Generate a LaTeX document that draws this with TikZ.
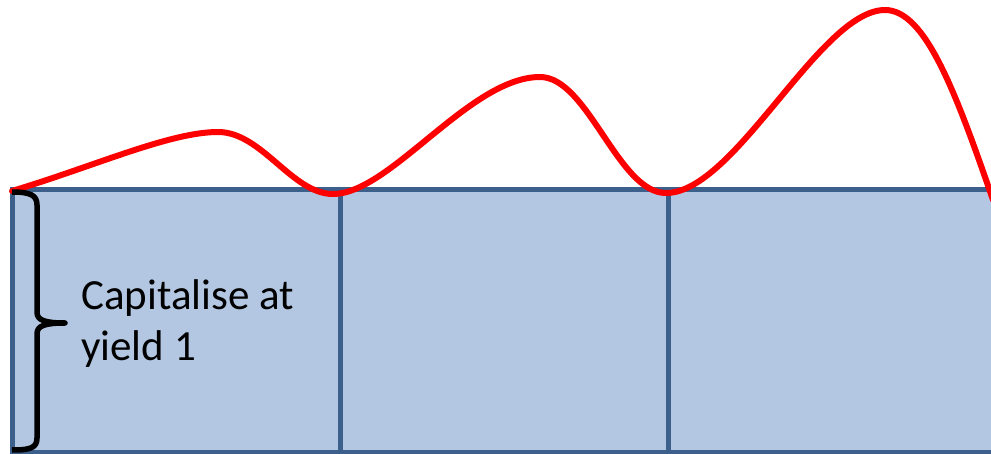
\documentclass[tikz,border=0pt]{standalone}
\usepackage{fontspec}
\setmainfont{Carlito}
\definecolor{boxfill}{HTML}{B3C7E2}
\definecolor{boxline}{HTML}{3C5F8C}
\begin{document}
\begin{tikzpicture}[x=1pt,y=-1pt,
  cell/.style={fill=boxfill,draw=boxline,line width=5pt},
  growth/.style={draw=red,line width=6pt,line cap=round},
  bracestyle/.style={draw=black,line width=5.5pt,line join=round},
  label/.style={font=\fontsize{43}{51}\selectfont,align=left,anchor=north west,inner sep=0pt}]
\useasboundingbox (0,0) rectangle (991,454);
\begin{scope}
\clip (0,0) rectangle (991,454);
\path[cell] (12,189.5) rectangle (340,452);
\path[cell] (340,189.5) rectangle (668,452);
\path[cell] (668,189.5) rectangle (1000,452);
\coordinate (c0) at (12,191);
\coordinate (p1) at (218,132);
\coordinate (m1) at (333,194);
\coordinate (p2) at (540,77);
\coordinate (m2) at (666,193);
\coordinate (p3) at (885,10);
\coordinate (c1) at (993,200);
\path[growth] (c0) .. controls (95,166) and (170,132) .. (p1)
  .. controls (262,132) and (292,194) .. (m1)
  .. controls (390,194) and (470,77) .. (p2)
  .. controls (588,77) and (618,193) .. (m2)
  .. controls (735,193) and (820,10) .. (p3)
  .. controls (925,10) and (955,90) .. (c1);
\end{scope}
\coordinate (btop) at (12,192);
\coordinate (btip) at (65,323);
\coordinate (bbot) at (12,450);
\path[bracestyle] (btop) .. controls (30,192) and (37,195) .. (37,205)
  -- (37,312) .. controls (37,320) and (44,323) .. (btip)
  .. controls (44,323) and (37,326) .. (37,334)
  -- (37,438) .. controls (37,448) and (30,450) .. (bbot);
\node[label] (txt) at (81,279) {Capitalise at\\yield 1};
\end{tikzpicture}
\end{document}
